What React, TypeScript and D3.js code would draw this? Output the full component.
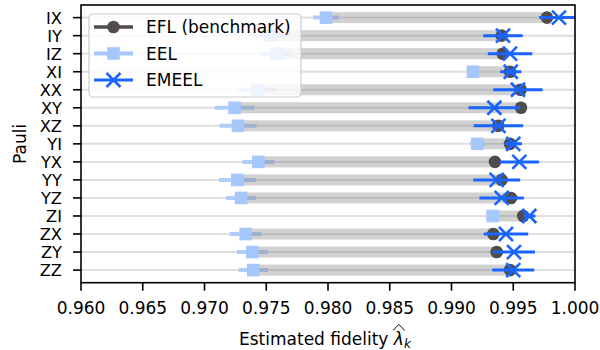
import React, { useLayoutEffect, useRef, useState } from "react";
import * as d3 from "d3";

const paulis = ["IX", "IY", "IZ", "XI", "XX", "XY", "XZ", "YI", "YX", "YY", "YZ", "ZI", "ZX", "ZY", "ZZ"];
const eflValues = [0.99773, 0.99406, 0.99415, 0.99474, 0.9956, 0.99563, 0.99379, 0.99474, 0.99352, 0.99406, 0.99482, 0.99581, 0.99339, 0.99366, 0.99474];
const eelValues = [0.97984, 0.97525, 0.97585, 0.99174, 0.97425, 0.97243, 0.97271, 0.99209, 0.97436, 0.97266, 0.97296, 0.99333, 0.97333, 0.97387, 0.97395];
const eelErrors = [0.00105, 0.0013, 0.0013, 0.0005, 0.0015, 0.0016, 0.0015, 0.0006, 0.0013, 0.0015, 0.0012, 0.0003, 0.0013, 0.00125, 0.0012];
const emeelValues = [0.9987, 0.99417, 0.99474, 0.9948, 0.99538, 0.99347, 0.9938, 0.995, 0.99549, 0.99366, 0.99406, 0.9963, 0.99441, 0.99506, 0.995];
const emeelErrors = [0.0016, 0.0016, 0.0018, 0.00085, 0.002, 0.0021, 0.002, 0.0007, 0.0016, 0.0019, 0.0018, 0.0005, 0.0018, 0.0017, 0.0017];
const xTicks = [0.96, 0.965, 0.97, 0.975, 0.98, 0.985, 0.99, 0.995, 1.0];
const legendLabels = ["EFL (benchmark)", "EEL", "EMEEL"];

const W = 600;
const H = 350;
const left = 81;
const right = 575;
const top = 5;
const bottom = 282.7;
const FONT = "'DejaVu Sans', sans-serif";
const FS = 17;

const C_EFL = "#514c4c";
const C_EEL = "#a6c7fb";
const C_EMEEL = "#1a64ff";

function XMark({ cx, cy, s, color, w }: { cx: number; cy: number; s: number; color: string; w: number }) {
  return (
    <path
      d={`M${cx - s},${cy - s}L${cx + s},${cy + s}M${cx - s},${cy + s}L${cx + s},${cy - s}`}
      stroke={color}
      strokeWidth={w}
      fill="none"
    />
  );
}

export default function App() {
  const x = d3.scaleLinear().domain([0.96, 1.0]).range([left, right]);
  const y = d3.scalePoint<string>().domain(paulis).range([top, bottom]).padding(0.7);
  const fmt = d3.format(".3f");

  const labelRef = useRef<SVGTextElement>(null);
  const [hat, setHat] = useState<{ x: number; w: number } | null>(null);
  useLayoutEffect(() => {
    const el = labelRef.current as any;
    if (el && el.getExtentOfChar) {
      try {
        const r = el.getExtentOfChar(19);
        setHat({ x: r.x, w: r.width });
      } catch (e) {}
    }
  }, []);

  const bandH = 11;

  return (
    <svg width={W} height={H} style={{ position: "absolute", left: 0, top: 0, background: "#fff" }} fontFamily={FONT}>
      <defs>
        <clipPath id="plotclip">
          <rect x={left} y={top} width={right - left} height={bottom - top} />
        </clipPath>
      </defs>
      <g clipPath="url(#plotclip)">
        {paulis.map((p) => (
          <line key={"g" + p} x1={left} x2={right} y1={y(p)} y2={y(p)} stroke="#808080" strokeOpacity={0.25} strokeWidth={2} />
        ))}
        {paulis.map((p, i) => (
          <line
            key={"ee" + p}
            x1={x(eelValues[i] - eelErrors[i])}
            x2={x(eelValues[i] + eelErrors[i])}
            y1={y(p)}
            y2={y(p)}
            stroke={C_EEL}
            strokeOpacity={0.85}
            strokeWidth={4}
          />
        ))}
        {paulis.map((p, i) => (
          <rect
            key={"b" + p}
            x={x(Math.min(eelValues[i], eflValues[i]))}
            width={Math.abs(x(eflValues[i]) - x(eelValues[i]))}
            y={(y(p) as number) - bandH / 2}
            height={bandH}
            fill="#808080"
            fillOpacity={0.36}
          />
        ))}
        {paulis.map((p, i) => (
          <rect key={"em" + p} x={x(eelValues[i]) - 6.3} y={(y(p) as number) - 6.3} width={12.6} height={12.6} fill={C_EEL} />
        ))}
        {paulis.map((p, i) => (
          <circle key={"f" + p} cx={x(eflValues[i])} cy={y(p)} r={6.3} fill={C_EFL} />
        ))}
        {paulis.map((p, i) => (
          <line
            key={"me" + p}
            x1={x(emeelValues[i] - emeelErrors[i])}
            x2={x(emeelValues[i] + emeelErrors[i])}
            y1={y(p)}
            y2={y(p)}
            stroke={C_EMEEL}
            strokeWidth={3}
          />
        ))}
        {paulis.map((p, i) => (
          <XMark key={"mm" + p} cx={x(emeelValues[i])} cy={y(p) as number} s={7} color={C_EMEEL} w={2.6} />
        ))}
      </g>

      <rect x={left} y={top} width={right - left} height={bottom - top} fill="none" stroke="#000" strokeWidth={1.6} />

      {xTicks.map((t) => (
        <g key={"xt" + t}>
          <line x1={x(t)} x2={x(t)} y1={bottom} y2={bottom + 8} stroke="#000" strokeWidth={1.6} />
          <text x={x(t)} y={314} textAnchor="middle" fontSize={FS} fill="#000">
            {fmt(t)}
          </text>
        </g>
      ))}
      {paulis.map((p) => (
        <g key={"yt" + p}>
          <line x1={left - 8} x2={left} y1={y(p)} y2={y(p)} stroke="#000" strokeWidth={1.6} />
          <text x={left - 19} y={(y(p) as number) + 6} textAnchor="end" fontSize={16.3} fill="#000">
            {p}
          </text>
        </g>
      ))}

      <text transform={`translate(26,${(top + bottom) / 2}) rotate(-90)`} textAnchor="middle" fontSize={FS} fill="#000">
        Pauli
      </text>
      <text ref={labelRef} x={239} y={345} fontSize={FS} fill="#000">
        Estimated fidelity <tspan fontStyle="italic">λ</tspan>
        <tspan fontStyle="italic" fontSize={12} dy={2.5}>k</tspan>
      </text>
      {(() => {
        const hx = hat ? hat.x - 1 : 395;
        const hw = hat ? hat.w + 2 : 11;
        const hy = 324.5;
        return (
          <path
            d={`M${hx},${hy + 6}L${hx + hw / 2},${hy}L${hx + hw},${hy + 6}`}
            fill="none"
            stroke="#000"
            strokeWidth={1}
          />
        );
      })()}

      <g>
        <rect x={89} y={14} width={212} height={83} rx={4} fill="#fff" fillOpacity={0.8} stroke="#cccccc" strokeWidth={1.2} />
        {legendLabels.map((lab, i) => {
          const ly = 27 + i * 26.5;
          return (
            <g key={"lg" + lab}>
              {i === 0 && (
                <>
                  <line x1={94} x2={133} y1={ly} y2={ly} stroke={C_EFL} strokeWidth={3.5} />
                  <circle cx={113.5} cy={ly} r={6.3} fill={C_EFL} />
                </>
              )}
              {i === 1 && (
                <>
                  <line x1={94} x2={133} y1={ly} y2={ly} stroke={C_EEL} strokeWidth={4} />
                  <rect x={113.5 - 6.3} y={ly - 6.3} width={12.6} height={12.6} fill={C_EEL} />
                </>
              )}
              {i === 2 && (
                <>
                  <line x1={94} x2={133} y1={ly} y2={ly} stroke={C_EMEEL} strokeWidth={3} />
                  <XMark cx={113.5} cy={ly} s={7} color={C_EMEEL} w={2.6} />
                </>
              )}
              <text x={146} y={ly + 6} fontSize={FS} fill="#000">
                {lab}
              </text>
            </g>
          );
        })}
      </g>
    </svg>
  );
}
